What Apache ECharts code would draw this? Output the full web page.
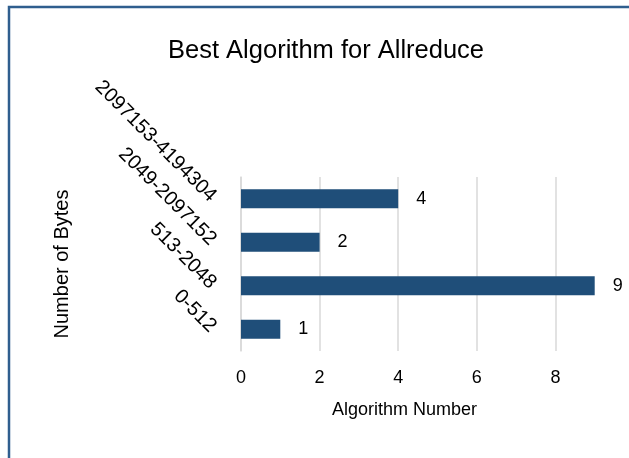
<!DOCTYPE html>
<html>
<head>
<meta charset="utf-8">
<script src="https://cdn.jsdelivr.net/npm/echarts@6/dist/echarts.min.js"></script>
<style>
html,body{margin:0;padding:0;background:#fff;overflow:hidden;}
#chart{width:640px;height:458px;}
</style>
</head>
<body>
<div id="chart"></div>
<script>
const categories = ['0-512', '513-2048', '2049-2097152', '2097153-4194304'];
const algorithmNumbers = [1, 9, 2, 4];
const xTicks = [0, 2, 4, 6, 8, 10];

const FONT = '"Liberation Sans", Arial, sans-serif';
const chart = echarts.init(document.getElementById('chart'), null, {renderer: 'canvas'});
chart.setOption({
  animation: false,
  backgroundColor: '#ffffff',
  textStyle: {fontFamily: FONT, color: '#000'},
  graphic: [{
    type: 'rect',
    shape: {x: 9, y: 7, width: 800, height: 700},
    style: {fill: 'none', stroke: '#2f5e8e', lineWidth: 2.5},
    silent: true,
    z: 100
  }],
  title: {
    text: 'Best Algorithm for Allreduce',
    left: 163,
    top: 33,
    textStyle: {fontFamily: FONT, fontSize: 25.5, fontWeight: 'normal', color: '#000'}
  },
  grid: {left: 241, top: 177, right: 6, bottom: 107, containLabel: false},
  xAxis: {
    type: 'value',
    min: xTicks[0],
    max: xTicks[xTicks.length - 1],
    interval: 2,
    name: 'Algorithm Number',
    nameLocation: 'middle',
    nameGap: 50,
    nameTextStyle: {fontFamily: FONT, fontSize: 18, color: '#000', padding: [0, 66, 0, 0]},
    axisLine: {show: false},
    axisTick: {show: false},
    axisLabel: {fontFamily: FONT, fontSize: 18, color: '#000', margin: 18, showMaxLabel: false},
    splitLine: {show: true, lineStyle: {color: '#d9d9d9', width: 1.5}}
  },
  yAxis: {
    type: 'category',
    data: categories,
    name: 'Number of Bytes',
    nameLocation: 'middle',
    nameGap: 169,
    nameTextStyle: {fontFamily: FONT, fontSize: 20, color: '#000'},
    axisLine: {show: true, lineStyle: {color: '#d9d9d9', width: 1.5}},
    axisTick: {show: false},
    axisLabel: {fontFamily: FONT, fontSize: 20, color: '#000', rotate: -45, margin: 28}
  },
  series: [{
    type: 'bar',
    data: algorithmNumbers,
    barWidth: 19,
    itemStyle: {color: '#1f4e79'},
    label: {show: true, position: 'right', distance: 18, fontFamily: FONT, fontSize: 18, color: '#000'}
  }]
});
</script>
</body>
</html>
